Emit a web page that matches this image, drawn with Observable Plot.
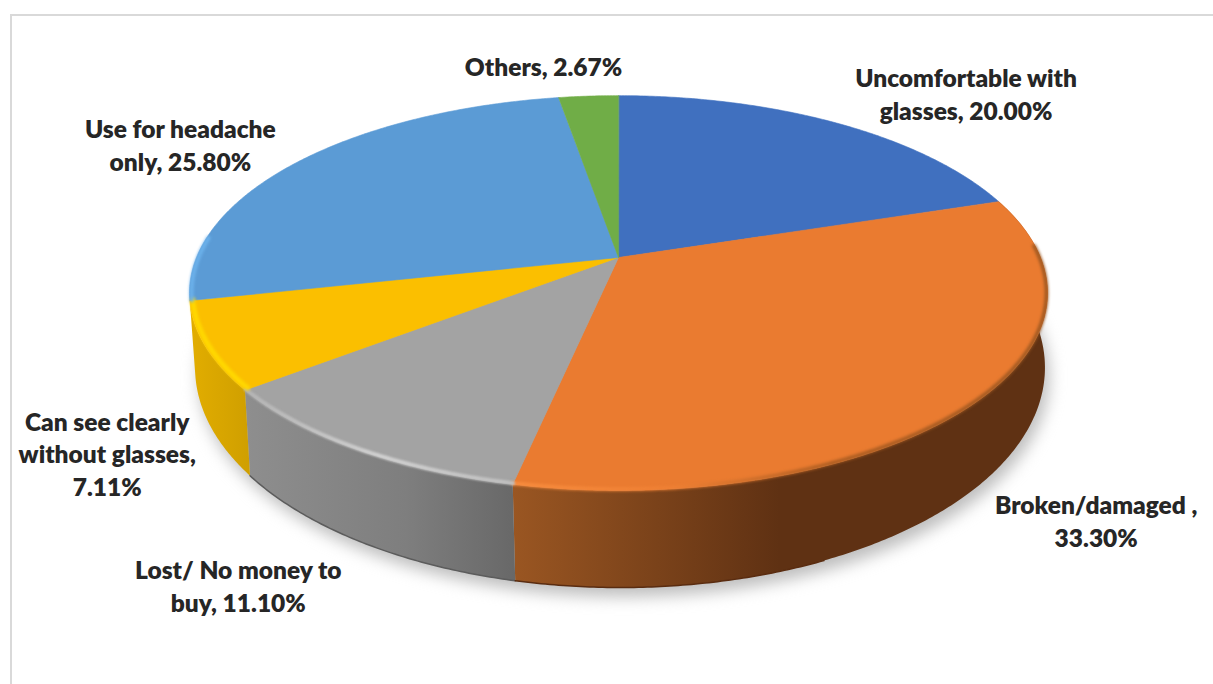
<!DOCTYPE html>
<html>
<head>
<meta charset="utf-8">
<script src="https://cdn.jsdelivr.net/npm/d3@7"></script>
<script src="https://cdn.jsdelivr.net/npm/@observablehq/plot@0.6"></script>
<style>
  html, body { margin: 0; padding: 0; background: #fff; }
  svg { display: block; }
</style>
</head>
<body>
<div id="chart"></div>
<script>
// Reasons for not wearing glasses, percent of respondents
const categories = ["Uncomfortable with glasses", "Broken/damaged", "Lost/ No money to buy", "Can see clearly without glasses", "Use for headache only", "Others"];
const values = [20.00, 33.30, 11.10, 7.11, 25.80, 2.67];
const labelPrefixes = ["Uncomfortable with\nglasses, ", "Broken/damaged ,\n", "Lost/ No money to\nbuy, ", "Can see clearly\nwithout glasses,\n", "Use for headache\nonly, ", "Others, "];

// Slice colours
const topColors = ["#4070bf", "#ea7b30", "#a3a3a3", "#fbbf00", "#5b9bd5", "#70ad47"];

// Label placement relative to the middle of each slice's outer edge
const labelOffsets = [[131, -30], [121, 117], [-117, 136], [-98, 107], [-120, -17], [-45, -31]];

// Perspective disc: the top and bottom faces of the cylinder
const tilt = 0.18;
const topDisc = {cx: 618, cy: 257, rx: 422, ry: 191};
const bottomDisc = {cx: 619.5, cy: 327.5, rx: 418, ry: 212.8};

function project(disc, turn) {
  const a = turn * 2 * Math.PI;
  const u = Math.sin(a), v = -Math.cos(a), w = 1 - tilt * v;
  return {x: disc.cx + disc.rx * u / w, y: disc.cy + disc.ry * v / w};
}
function arc(disc, t0, t1) {
  const n = Math.max(2, Math.ceil(Math.abs(t1 - t0) * 720));
  return d3.range(n + 1).map((i) => project(disc, t0 + (t1 - t0) * i / n));
}

const total = d3.sum(values);
const stops = d3.cumsum(values).map((c) => c / total);
const slices = categories.map((name, i) => ({
  name,
  value: values[i],
  color: topColors[i],
  t0: i ? stops[i - 1] : 0,
  t1: stops[i]
}));

const wedge = (s) => [{x: topDisc.cx, y: topDisc.cy}, ...arc(topDisc, s.t0, s.t1)];
const wall = (s) => [...arc(topDisc, s.t0, s.t1), ...arc(bottomDisc, s.t1, s.t0)];

const labels = slices.map((s, i) => {
  const mid = project(topDisc, (s.t0 + s.t1) / 2);
  return {
    x: mid.x + labelOffsets[i][0],
    y: mid.y + labelOffsets[i][1],
    text: labelPrefixes[i] + s.value.toFixed(2) + "%"
  };
});

// Side wall fills, one horizontal gradient per visible slice
const gradients = {
  wallOrange: [[0, "#9a5622"], [0.5, "#5f3113"], [1, "#5f3113"]],
  wallGrey: [[0, "#8e8e8e"], [0.6, "#7e7e7e"], [1, "#686868"]],
  wallYellow: [[0, "#e2ad00"], [1, "#cf9f00"]],
  rimOrange: [[0, "#fa8f40"], [0.3, "#ef8034"], [0.6, "#a65a20"], [1, "#9a5620"]],
  rimGrey: [[0, "#b4b4b4"], [0.5, "#d2d2d2"], [1, "#c0c0c0"]]
};
const defs = () => {
  const d = d3.create("svg:defs");
  for (const [id, list] of Object.entries(gradients)) {
    const g = d.append("linearGradient").attr("id", id).attr("x1", 0).attr("x2", 1).attr("y1", 0).attr("y2", 0);
    for (const [offset, color] of list) g.append("stop").attr("offset", offset).attr("stop-color", color);
  }
  return d.node();
};

const wallFills = {1: "url(#wallOrange)", 2: "url(#wallGrey)", 3: "url(#wallYellow)"};

// Bevel along the top edge: slice index, portion of the slice, colour, width, blur, inset
const rims = [
  {i: 1, from: 0.12, to: 1, stroke: "url(#rimOrange)", width: 3.5, blur: 1.6, inset: 1},
  {i: 2, from: 0, to: 1, stroke: "url(#rimGrey)", width: 4, blur: 1.2, inset: 1},
  {i: 3, from: 0, to: 1, stroke: "#ffd800", width: 5, blur: 1.5, inset: 3},
  {i: 4, from: 0, to: 0.2, stroke: "#6cb2ec", width: 4, blur: 1.5, inset: 2}
];
const rimPath = (r) => {
  const s = slices[r.i];
  const inner = {...topDisc, rx: topDisc.rx - r.inset, ry: topDisc.ry - r.inset};
  const span = s.t1 - s.t0;
  return arc(inner, s.t0 + span * r.from, s.t0 + span * r.to);
};

// Darker line where the wall meets the ground
const footEdge = [
  {i: 2, from: 0, to: 1, stroke: "#5c5c5c"},
  {i: 1, from: 0.7, to: 1, stroke: "#5a2c10"}
];
const footPath = (r) => {
  const s = slices[r.i], span = s.t1 - s.t0;
  return arc(bottomDisc, s.t0 + span * r.from, s.t0 + span * r.to);
};

const polygon = (points, options) =>
  Plot.line(points, {x: "x", y: "y", curve: "linear-closed", stroke: "none", ...options});

const plot = Plot.plot({
  width: 1213,
  height: 684,
  margin: 0,
  style: {background: "#fff"},
  x: {domain: [0, 1213], range: [0, 1213], axis: null},
  y: {domain: [0, 684], range: [0, 684], axis: null},
  marks: [
    defs,
    // Frame of the chart area
    Plot.ruleX([10.5], {y1: 14, y2: 684, stroke: "#d9d9d9", strokeWidth: 2}),
    Plot.ruleY([14.5], {x1: 10, x2: 1213, stroke: "#d9d9d9", strokeWidth: 2}),
    // Soft ground shadow
    polygon(arc({...bottomDisc, cy: bottomDisc.cy + 9, cx: bottomDisc.cx + 4}, 0, 1), {fill: "#bdbdbd", imageFilter: "blur(8px)"}),
    // Side walls
    ...slices.flatMap((s, i) => wallFills[i] ? [polygon(wall(s), {fill: wallFills[i]})] : []),
    ...footEdge.map((r) => Plot.line(footPath(r), {x: "x", y: "y", stroke: r.stroke, strokeWidth: 1.5, imageFilter: "blur(0.6px)"})),
    // Top faces
    ...slices.map((s) => polygon(wedge(s), {fill: s.color, stroke: s.color, strokeWidth: 0.6})),
    // Bevel highlights
    ...rims.map((r) => Plot.line(rimPath(r), {x: "x", y: "y", stroke: r.stroke, strokeWidth: r.width, imageFilter: `blur(${r.blur}px)`})),
    // Data labels
    Plot.text(labels, {
      x: "x", y: "y", text: "text",
      fontFamily: "Lato", fontWeight: 800, fontSize: 24.5,
      lineHeight: 1.34, fill: "#262626", textAnchor: "middle"
    })
  ]
});
document.getElementById("chart").append(plot);
</script>
</body>
</html>
